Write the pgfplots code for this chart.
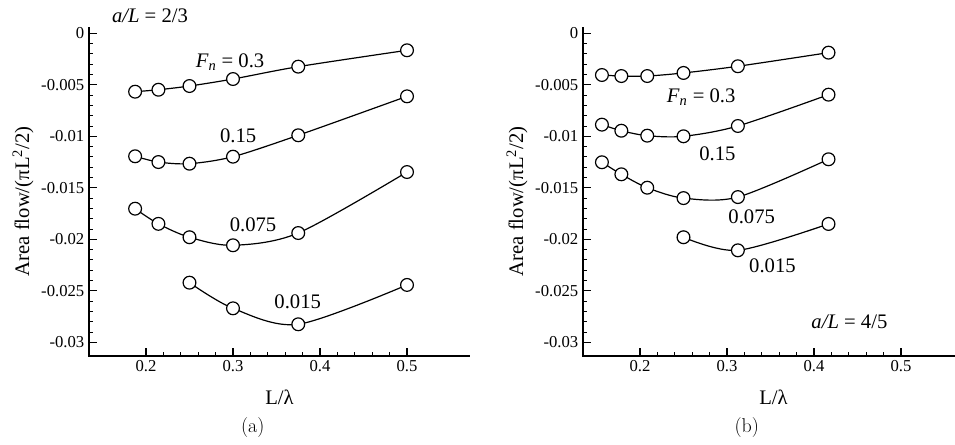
\documentclass[border=0pt]{standalone}
\usepackage{fontspec}
\setmainfont{Liberation Serif}
\usepackage{pgfplots}
\pgfplotsset{compat=1.18}

% common look of both panels
\pgfplotsset{
  flowaxis/.style={
    scale only axis, width=285.75pt, height=246.75pt,
    xmin=0.1345, xmax=0.5724, ymin=-0.03133, ymax=0.00061,
    axis line style={draw=none},
    xtick pos=left, ytick pos=left, tick align=inside,
    major tick length=6pt, minor tick length=3pt,
    major tick style={draw=black, line width=1pt},
    minor tick style={draw=black, line width=0.7pt},
    scaled y ticks=false, scaled x ticks=false,
    xtick={0.2,0.3,0.4,0.5},
    xticklabels={\textrm{0.2},\textrm{0.3},\textrm{0.4},\textrm{0.5}},
    ytick={-0.03,-0.025,-0.02,-0.015,-0.01,-0.005,0},
    yticklabels={\textrm{-0.03},\textrm{-0.025},\textrm{-0.02},\textrm{-0.015},\textrm{-0.01},\textrm{-0.005},\textrm{0}},
    minor x tick num=4, minor y tick num=4,
    ticklabel style={font=\fontsize{12.5}{14}\selectfont},
    xlabel={L/λ}, ylabel={Area flow/(πL\textsuperscript{2}/2)},
    label style={font=\fontsize{15.5}{18}\selectfont},
    xlabel style={at={(axis description cs:0.5,-0.125)}, anchor=center},
    ylabel style={at={(axis description cs:-0.173,0.47)}, anchor=center},
    clip=false,
    every axis plot post/.append style={black, line width=0.9pt, smooth, mark=*,
      mark size=4.8pt, mark options={fill=white, draw=black, solid}},
  },
}
\tikzset{note/.style={font=\fontsize{15.5}{18}\selectfont}}

\begin{document}
\begin{tikzpicture}
\useasboundingbox (0,0) rectangle (716.25pt,333pt);

% (a) a/L = 2/3
\begin{axis}[flowaxis, at={(66.75pt,66pt)}, anchor=south west]
\draw[line width=1.4pt] (rel axis cs:0,1) -- (rel axis cs:0,0) -- (rel axis cs:1,0);
\addplot coordinates {(0.1875,-0.00567) (0.2143,-0.00548) (0.25,-0.00512) (0.3,-0.00444) (0.375,-0.00324) (0.5,-0.00165)};
\addplot coordinates {(0.1875,-0.01194) (0.2143,-0.0125) (0.25,-0.01266) (0.3,-0.01198) (0.375,-0.0099) (0.5,-0.00612)};
\addplot coordinates {(0.1875,-0.01703) (0.2143,-0.0185) (0.25,-0.0198) (0.3,-0.02058) (0.375,-0.01939) (0.5,-0.01347)};
\addplot coordinates {(0.25,-0.02421) (0.3,-0.0267) (0.375,-0.02825) (0.5,-0.02443)};
\node[note] at (axis cs:0.2046,0.0017) {\textit{a/L} = 2/3};
\node[note] at (axis cs:0.2966,-0.00279) {\textit{F}\textsubscript{\textit{n}} = 0.3};
\node[note] at (axis cs:0.306,-0.00997) {0.15};
\node[note] at (axis cs:0.323,-0.0186) {0.075};
\node[note] at (axis cs:0.3744,-0.02606) {0.015};
\node[font=\fontfamily{lmr}\fontsize{15}{18}\selectfont] at (rel axis cs:0.43,-0.216) {(a)};
\end{axis}

% (b) a/L = 4/5
\begin{axis}[flowaxis, at={(437.25pt,66pt)}, anchor=south west]
\draw[line width=1.4pt] (rel axis cs:0,1) -- (rel axis cs:0,0) -- (rel axis cs:1,0);
\addplot coordinates {(0.15625,-0.00405) (0.17857,-0.00415) (0.20833,-0.00415) (0.25,-0.00385) (0.3125,-0.0032) (0.41667,-0.00188)};
\addplot coordinates {(0.15625,-0.00887) (0.17857,-0.00946) (0.20833,-0.00994) (0.25,-0.0100) (0.3125,-0.009) (0.41667,-0.00596)};
\addplot coordinates {(0.15625,-0.01252) (0.17857,-0.01369) (0.20833,-0.01499) (0.25,-0.016) (0.3125,-0.0159) (0.41667,-0.01223)};
\addplot coordinates {(0.25,-0.0198) (0.3125,-0.02107) (0.41667,-0.01851)};
\node[note] at (axis cs:0.2703,-0.00616) {\textit{F}\textsubscript{\textit{n}} = 0.3};
\node[note] at (axis cs:0.2889,-0.01165) {0.15};
\node[note] at (axis cs:0.3284,-0.0178) {0.075};
\node[note] at (axis cs:0.3522,-0.02256) {0.015};
\node[note] at (axis cs:0.4407,-0.028) {\textit{a/L} = 4/5};
\node[font=\fontfamily{lmr}\fontsize{15}{18}\selectfont] at (rel axis cs:0.43,-0.216) {(b)};
\end{axis}
\end{tikzpicture}
\end{document}
